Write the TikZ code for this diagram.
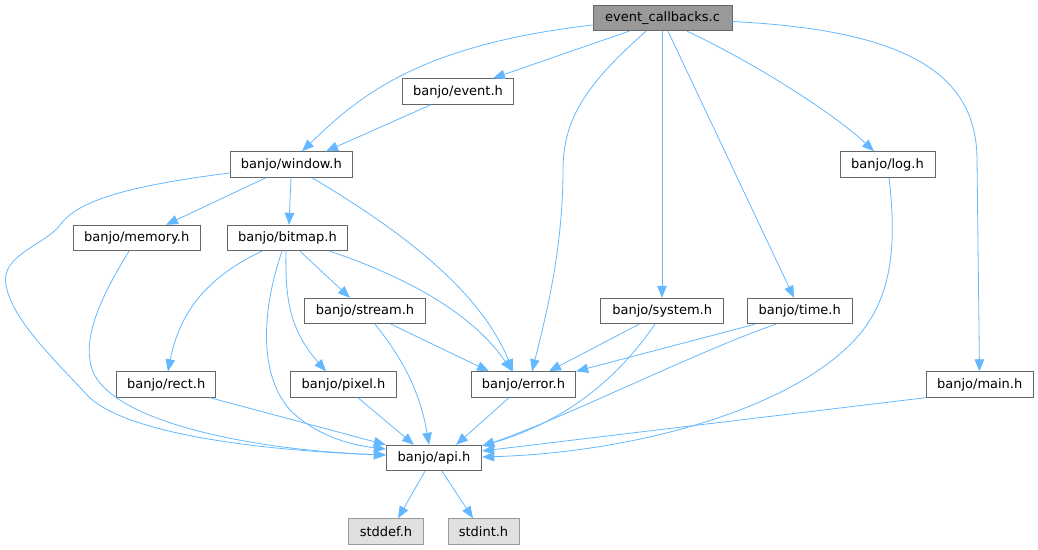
\documentclass[tikz,border=0pt]{standalone}
\usepackage{fontspec}
\setmainfont{DejaVu Sans}
\usetikzlibrary{arrows.meta}
\definecolor{edgeblue}{HTML}{63B8FF}
\definecolor{boxline}{HTML}{666666}
\definecolor{rootfill}{HTML}{999999}
\definecolor{extfill}{HTML}{E0E0E0}
\definecolor{extline}{HTML}{999999}
\tikzset{
  hdr/.style={draw=boxline, line width=0.9pt, fill=white, minimum height=25.5pt,
    inner sep=0pt, font=\fontsize{13}{15}\selectfont, text=black},
  root/.style={hdr, fill=rootfill},
  ext/.style={hdr, fill=extfill, draw=extline},
  dep/.style={draw=edgeblue, line width=0.8pt, -{Triangle[length=12pt,width=9.5pt]}}
}
\begin{document}
\begin{tikzpicture}[x=1pt,y=-1pt]
\useasboundingbox (0,0) rectangle (1038,549);
% nodes
\node[root, minimum width=139pt] (ec) at (662.5,18) {event\_callbacks.c};
\node[hdr, minimum width=110.5pt] (event) at (458,91.5) {banjo/event.h};
\node[hdr, minimum width=122.5pt] (win) at (291.3,164.5) {banjo/window.h};
\node[hdr, minimum width=95pt] (log) at (887.5,164.5) {banjo/log.h};
\node[hdr, minimum width=126.5pt] (mem) at (136.7,238) {banjo/memory.h};
\node[hdr, minimum width=120.5pt] (bmp) at (287.5,238) {banjo/bitmap.h};
\node[hdr, minimum width=120.5pt] (stream) at (365,311) {banjo/stream.h};
\node[hdr, minimum width=123pt] (sys) at (662.2,311) {banjo/system.h};
\node[hdr, minimum width=104.7pt] (time) at (799.7,311) {banjo/time.h};
\node[hdr, minimum width=99pt] (rect) at (166.2,384.5) {banjo/rect.h};
\node[hdr, minimum width=105.6pt] (pixel) at (343.5,384.5) {banjo/pixel.h};
\node[hdr, minimum width=104.4pt] (err) at (523.5,384.5) {banjo/error.h};
\node[hdr, minimum width=107.3pt] (main) at (979.7,384.5) {banjo/main.h};
\node[hdr, minimum width=95.4pt] (api) at (434,458) {banjo/api.h};
\node[ext, minimum width=74.6pt] (stddef) at (386,531.5) {stddef.h};
\node[ext, minimum width=71pt] (stdint) at (483.5,531.5) {stdint.h};
% edges from event_callbacks.c
\draw[dep] (ec.west |- 0,25) .. controls (420,45) and (360,95) .. (win.north -| 302,0);
\draw[dep] (ec.south -| 629,0) -- (event.north -| 493,0);
\draw[dep] (ec.south -| 646,0) .. controls (585,85) and (563,120) .. (563,170)
  .. controls (563,250) and (545,320) .. (err.north -| 532,0);
\draw[dep] (ec.south -| 662,0) -- (sys.north -| 662,0);
\draw[dep] (ec.south -| 668,0) -- (time.north -| 794,0);
\draw[dep] (ec.south -| 687,0) .. controls (745,58) and (830,110) .. (log.north -| 874,0);
\draw[dep] (ec.east |- 0,21.5) .. controls (900,30) and (977,70) .. (977,160)
  -- (main.north -| 979.5,0);
% event.h
\draw[dep] (event.south -| 431,0) -- (win.north -| 326,0);
% window.h
\draw[dep] (win.west |- 0,173) .. controls (110,188) and (75,205) .. (60,225)
  .. controls (45,245) and (0,255) .. (6,285)
  .. controls (12,320) and (55,360) .. (87,395)
  .. controls (130,440) and (300,452) .. (api.west |- 0,455);
\draw[dep] (win.south -| 266,0) -- (mem.north -| 166,0);
\draw[dep] (win.south -| 291,0) -- (bmp.north -| 289,0);
\draw[dep] (win.south -| 312,0) .. controls (400,230) and (480,290) .. (err.north -| 513,0);
% memory.h
\draw[dep] (mem.south -| 129,0) .. controls (105,290) and (85,330) .. (90,360)
  .. controls (95,420) and (250,450) .. (api.west |- 0,455);
% bitmap.h
\draw[dep] (bmp.south -| 262,0) .. controls (200,280) and (178,320) .. (rect.north -| 168,0);
\draw[dep] (bmp.south -| 282,0) .. controls (265,300) and (255,370) .. (290,410)
  .. controls (315,435) and (350,445) .. (api.west |- 0,449);
\draw[dep] (bmp.south -| 286,0) .. controls (285,300) and (290,330) .. (pixel.north -| 326,0);
\draw[dep] (bmp.south -| 300,0) -- (stream.north -| 350,0);
\draw[dep] (bmp.south -| 330,0) .. controls (400,275) and (470,310) .. (err.north -| 512,0);
% stream.h
\draw[dep] (stream.south -| 375,0) .. controls (400,355) and (420,390) .. (api.north -| 429,0);
\draw[dep] (stream.south -| 391,0) -- (err.north -| 489,0);
% rect, pixel, error
\draw[dep] (rect.south -| 210,0) -- (api.north west);
\draw[dep] (pixel.south -| 358,0) -- (api.north -| 414,0);
\draw[dep] (err.south -| 509,0) -- (api.north -| 456,0);
% system.h
\draw[dep] (sys.south -| 639,0) -- (err.north -| 549,0);
\draw[dep] (sys.south -| 655,0) .. controls (620,375) and (570,420) .. (api.east |- 0,446);
% time.h
\draw[dep] (time.south -| 755,0) -- (err.north east);
\draw[dep] (time.south -| 776,0) .. controls (700,350) and (560,420) .. (api.east |- 0,446);
% log.h
\draw[dep] (log.south -| 889,0) .. controls (895,230) and (895,280) .. (870,320)
  .. controls (820,400) and (650,452) .. (api.east |- 0,457);
% main.h
\draw[dep] (main.south west) -- (api.east |- 0,451);
% api.h
\draw[dep] (api.south -| 425,0) -- (stddef.north -| 398,0);
\draw[dep] (api.south -| 442,0) -- (stdint.north -| 473,0);
\end{tikzpicture}
\end{document}
